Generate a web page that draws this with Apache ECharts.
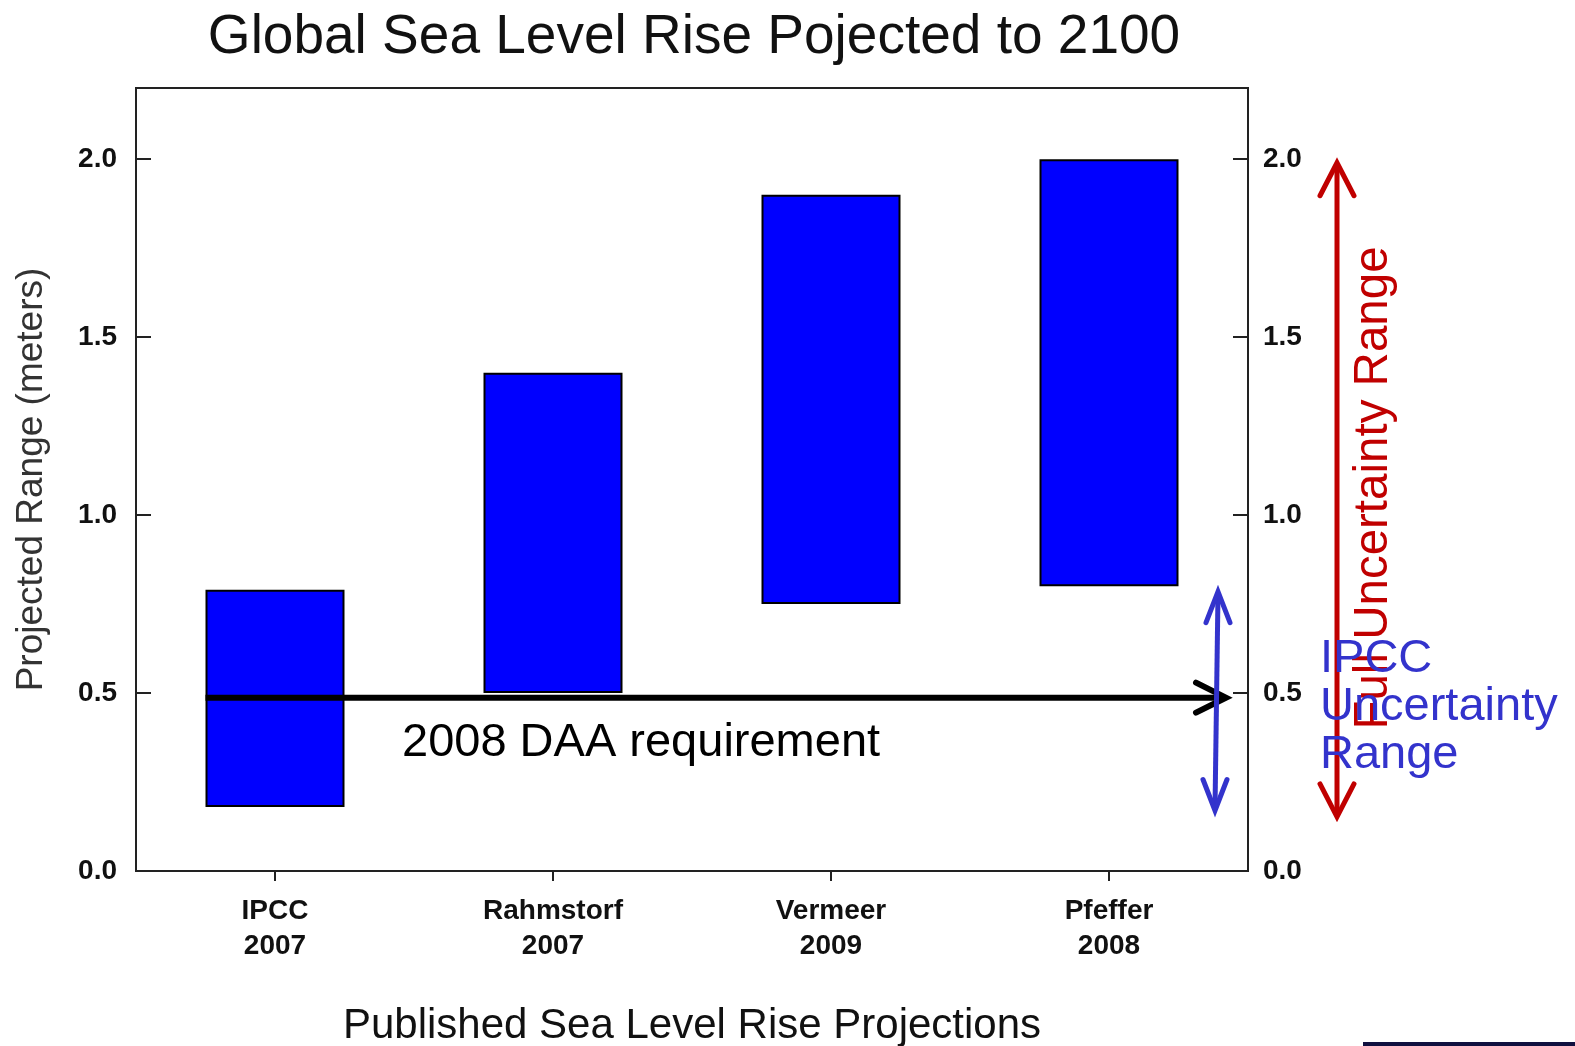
<!DOCTYPE html>
<html>
<head>
<meta charset="utf-8">
<script src="https://cdn.jsdelivr.net/npm/echarts@6/dist/echarts.min.js"></script>
<style>
html,body{margin:0;padding:0;background:#fff;}
#chart{width:1575px;height:1046px;}
</style>
</head>
<body>
<div id="chart"></div>
<script>
const categories = ['IPCC\n2007', 'Rahmstorf\n2007', 'Vermeer\n2009', 'Pfeffer\n2008'];
const lowValues = [0.18, 0.50, 0.75, 0.80];
const highValues = [0.79, 1.40, 1.90, 2.00];
const tickValues = [0, 0.5, 1.0, 1.5, 2.0];
const daaRequirement = 0.487;
const ipccRange = [0.785, 0.17];
const fullRange = [1.99, 0.152];

const FONT = '"Liberation Sans", Arial, sans-serif';
const chart = echarts.init(document.getElementById('chart'), null, {renderer: 'canvas'});

const yAxisCommon = {
  type: 'value', min: 0, max: 2.2, interval: 0.5,
  axisLine: {show: true, lineStyle: {color: '#222', width: 2}},
  axisTick: {show: true, inside: true, length: 15, lineStyle: {color: '#222', width: 2}, customValues: tickValues},
  splitLine: {show: false},
  axisLabel: {customValues: tickValues, formatter: v => v.toFixed(1), fontFamily: FONT, fontWeight: 'bold', fontSize: 28, color: '#111'}
};

chart.setOption({
  animation: false,
  backgroundColor: '#fff',
  grid: {left: 136, right: 327, top: 88, bottom: 175, outerBoundsMode: 'none', containLabel: false,
         show: true, borderColor: '#222', borderWidth: 2, backgroundColor: 'transparent'},
  xAxis: {
    type: 'category', data: categories,
    name: 'Published Sea Level Rise Projections', nameLocation: 'middle', nameGap: 134,
    nameTextStyle: {fontFamily: FONT, fontSize: 42, color: '#111'},
    axisLine: {show: true, lineStyle: {color: '#222', width: 2}},
    axisTick: {show: true, alignWithLabel: true, length: 10, lineStyle: {color: '#222', width: 2}},
    axisLabel: {margin: 23, fontFamily: FONT, fontWeight: 'bold', fontSize: 28, lineHeight: 35, color: '#111'}
  },
  yAxis: [
    Object.assign({}, yAxisCommon, {
      position: 'left',
      name: 'Projected Range (meters)', nameLocation: 'middle', nameRotate: 90, nameGap: 86,
      nameTextStyle: {fontFamily: FONT, fontSize: 37, color: '#333'},
      axisLabel: Object.assign({}, yAxisCommon.axisLabel, {margin: 19})
    }),
    Object.assign({}, yAxisCommon, {
      position: 'right',
      axisLabel: Object.assign({}, yAxisCommon.axisLabel, {margin: 15})
    })
  ],
  series: [
    {type: 'bar', stack: 'r', data: lowValues, barWidth: '50%', itemStyle: {color: 'transparent'}, silent: true},
    {type: 'bar', stack: 'r', data: highValues.map((h, i) => +(h - lowValues[i]).toFixed(3)), barWidth: '50%',
     itemStyle: {color: '#0000ff', borderColor: '#000', borderWidth: 2}}
  ]
});

function py(v) { return chart.convertToPixel({yAxisIndex: 0}, v); }
function px(i) { return chart.convertToPixel({xAxisIndex: 0}, i); }

const catW = (chart.convertToPixel({xAxisIndex: 0}, 1) - chart.convertToPixel({xAxisIndex: 0}, 0));
const barLeft = px(0) - catW * 0.25;
const yDaa = py(daaRequirement);
const tipX = 1226;

const blueTopX = 1218, blueBotX = 1215;
const bT = py(ipccRange[0]), bB = py(ipccRange[1]);
const redX = 1337;
const rT = py(fullRange[0]), rB = py(fullRange[1]);

const blue = '#3333cc', red = '#c00000';

chart.setOption({
  title: {
    text: 'Global Sea Level Rise Pojected to 2100',
    left: 689, top: 5, textAlign: 'center',
    textStyle: {fontFamily: FONT, fontWeight: 'normal', fontSize: 55, color: '#111'}
  },
  graphic: [
    {type: 'line', z: 100, shape: {x1: barLeft, y1: yDaa, x2: tipX - 2, y2: yDaa}, style: {stroke: '#000', lineWidth: 6}},
    {type: 'polyline', z: 100, shape: {points: [[tipX - 30, yDaa - 15], [tipX, yDaa], [tipX - 30, yDaa + 15]]}, style: {stroke: '#000', lineWidth: 6, lineCap: 'round', lineJoin: 'miter', fill: null}},
    {type: 'text', z: 100, style: {text: '2008 DAA requirement', x: 402, y: py(0.36), fontFamily: FONT, fontSize: 47, fill: '#000', verticalAlign: 'middle', align: 'left'}},

    {type: 'line', z: 100, shape: {x1: blueTopX, y1: bT + 2, x2: blueBotX, y2: bB - 2}, style: {stroke: blue, lineWidth: 5}},
    {type: 'polyline', z: 100, shape: {points: [[blueTopX - 12, bT + 31], [blueTopX, bT], [blueTopX + 12, bT + 31]]}, style: {stroke: blue, lineWidth: 5, lineCap: 'round', fill: null}},
    {type: 'polyline', z: 100, shape: {points: [[blueBotX - 12, bB - 31], [blueBotX, bB], [blueBotX + 12, bB - 31]]}, style: {stroke: blue, lineWidth: 5, lineCap: 'round', fill: null}},

    {type: 'line', z: 100, shape: {x1: redX, y1: rT + 2, x2: redX, y2: rB - 2}, style: {stroke: red, lineWidth: 5}},
    {type: 'polyline', z: 100, shape: {points: [[redX - 17, rT + 33], [redX, rT], [redX + 17, rT + 33]]}, style: {stroke: red, lineWidth: 5, lineCap: 'round', fill: null}},
    {type: 'polyline', z: 100, shape: {points: [[redX - 17, rB - 33], [redX, rB], [redX + 17, rB - 33]]}, style: {stroke: red, lineWidth: 5, lineCap: 'round', fill: null}},

    {type: 'text', z: 101, x: 1374, y: 488, rotation: Math.PI / 2,
     style: {text: 'Full Uncertainty Range', x: 0, y: 0, fontFamily: FONT, fontSize: 47.5, fill: red, align: 'center', verticalAlign: 'middle'}},
    {type: 'text', z: 102, style: {text: 'IPCC\nUncertainty\nRange', x: 1320, y: 635, fontFamily: FONT, fontSize: 47, lineHeight: 48, fill: blue, align: 'left', verticalAlign: 'top'}},

    {type: 'rect', z: 100, shape: {x: 1363, y: 1042, width: 212, height: 4}, style: {fill: '#10103f'}}
  ]
});
</script>
</body>
</html>
